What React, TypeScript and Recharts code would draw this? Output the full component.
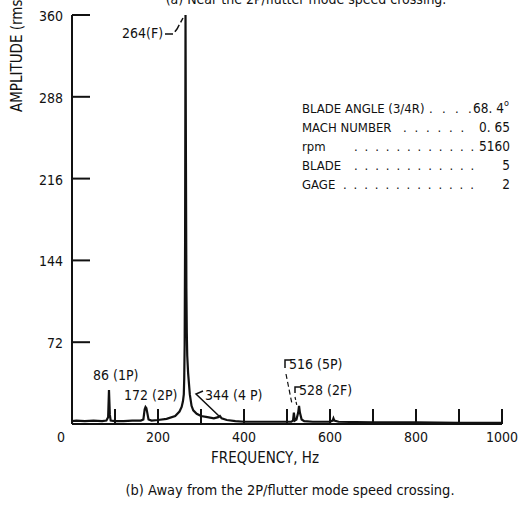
import React from "react";
import { LineChart, Line, XAxis, YAxis, Customized } from "recharts";

// spectrum trace, frequency (Hz) against amplitude
const freqHz = [
  0, 10, 30, 50, 70, 80, 84, 86, 88, 90, 100, 120, 140, 160, 166, 169, 171, 173, 175, 178,
  185, 200, 220, 240, 250, 255, 258, 260, 261, 262, 263, 264, 265, 266, 267, 268, 270, 274,
  278, 282, 290, 300, 315, 330, 340, 344, 348, 360, 380, 400, 450, 500, 510, 514, 516, 518,
  522, 526, 528, 530, 534, 540, 560, 600, 606, 608, 610, 620, 700, 800, 900, 1000,
];
const amplitude = [
  2.5, 3, 2.5, 3, 2.5, 3, 6, 30, 8, 3, 2.5, 2.5, 3, 3, 4, 13, 15, 14, 10, 4,
  3, 3.5, 4.5, 7, 11, 15, 20, 26, 40, 70, 160, 360, 230, 120, 80, 60, 45, 26,
  16, 12, 9, 7, 6, 5, 6, 7, 5, 3.5, 2.5, 2, 2, 2, 2, 3, 10, 3,
  4, 10, 16, 10, 4, 2.5, 2, 2, 3, 5, 3, 2, 1.5, 1.5, 1, 1,
];

const freqTicks = [0, 100, 200, 300, 400, 500, 600, 700, 800, 900, 1000];
const ampTicks = [0, 72, 144, 216, 288, 360];

// run conditions printed in the upper right
const conditionLabels = ["BLADE ANGLE (3/4R)", "MACH NUMBER", "rpm", "BLADE", "GAGE"];
const conditionValues = ["68. 4", "0. 65", "5160", "5", "2"];

const data = freqHz.map((f, i) => ({ freq: f, amp: amplitude[i] }));

const FONT = "'Liberation Sans Narrow', 'DejaVu Sans Condensed', 'Arial Narrow', sans-serif";
const INK = "#111";

const XTick = (props: any) => {
  const { x, y, payload } = props;
  const v = payload.value;
  return (
    <g>
      {v > 0 && <line x1={x} x2={x} y1={y} y2={y - 15} stroke={INK} strokeWidth={2} />}
      {v % 200 === 0 && (
        <text x={v === 0 ? x - 11 : x} y={y + 18} textAnchor="middle" fontFamily={FONT} fontSize={14} fill={INK}>
          {v}
        </text>
      )}
    </g>
  );
};

const YTick = (props: any) => {
  const { x, y, payload } = props;
  if (payload.value === 0) return null;
  return (
    <g>
      <line x1={x} x2={x + 18} y1={y} y2={y} stroke={INK} strokeWidth={2} />
      <text x={x - 9} y={y + 6} textAnchor="end" fontFamily={FONT} fontSize={14} fill={INK}>
        {payload.value}
      </text>
    </g>
  );
};

const dots = (x0: number, n: number, step: number, y: number) =>
  Array.from({ length: n }).map((_, i) => (
    <text key={i} x={x0 + i * step} y={y} fontFamily={FONT} fontSize={13} fill={INK}>
      .
    </text>
  ));

const dotRuns = [
  { x0: 429, n: 4, step: 13 },
  { x0: 403, n: 6, step: 11.5 },
  { x0: 354, n: 12, step: 10.6 },
  { x0: 354, n: 12, step: 10.6 },
  { x0: 343, n: 13, step: 10.6 },
];

const Annotations = () => {
  const t = { fontFamily: FONT, fontSize: 14, fill: INK };
  return (
    <g>
      <text x={306} y={4} textAnchor="middle" {...t}>
        (a) Near the 2P/flutter mode speed crossing.
      </text>
      <text transform="translate(22,112) rotate(-90)" {...t} fontSize={15}>
        AMPLITUDE (rms)
      </text>

      <text x={122} y={38} {...t}>264(F)</text>
      <polyline points="165,34 173,34 177,29 183,18" fill="none" stroke={INK} strokeWidth={1.5} strokeDasharray="8 3" />

      <text x={93} y={380} {...t}>86 (1P)</text>
      <text x={124} y={400} {...t}>172 (2P)</text>

      <text x={205} y={400} {...t}>344 (4 P)</text>
      <polyline points="203,391 196,394 219,416" fill="none" stroke={INK} strokeWidth={1.5} />

      <text x={289} y={369} {...t}>516 (5P)</text>
      <polyline points="291,360 285,360 285,368" fill="none" stroke={INK} strokeWidth={1.5} />
      <line x1={286} y1={374} x2={292} y2={404} stroke={INK} strokeWidth={1.2} strokeDasharray="5 3" />

      <text x={299} y={395} {...t}>528 (2F)</text>
      <polyline points="301,387 295,387 295,393" fill="none" stroke={INK} strokeWidth={1.5} />
      <line x1={295} y1={397} x2={297} y2={406} stroke={INK} strokeWidth={1.2} strokeDasharray="3 2" />

      {conditionLabels.map((lab, i) => {
        const y = 113 + i * 19;
        const run = dotRuns[i];
        return (
          <g key={lab}>
            <text x={302} y={y} {...t} fontSize={13}>{lab}</text>
            {dots(run.x0, run.n, run.step, y)}
            <text x={i === 0 ? 504 : 510} y={y} textAnchor="end" {...t} fontSize={13.5}>
              {conditionValues[i]}
            </text>
            {i === 0 && (
              <text x={504} y={y - 7} fontFamily={FONT} fontSize={9} fill={INK}>o</text>
            )}
          </g>
        );
      })}

      <text x={265} y={463} textAnchor="middle" {...t} fontSize={15}>FREQUENCY, Hz</text>
      <text x={290} y={495} textAnchor="middle" {...t} fontSize={14.5}>
        (b) Away from the 2P/flutter mode speed crossing.
      </text>
    </g>
  );
};

export default function App() {
  return (
    <div style={{ position: "absolute", left: 0, top: 0, background: "#fff" }}>
      <LineChart width={518} height={510} data={data} margin={{ top: 15, right: 16, left: 0, bottom: 0 }}>
        <XAxis
          type="number"
          dataKey="freq"
          domain={[0, 1000]}
          ticks={freqTicks}
          interval={0}
          height={86}
          tickSize={0}
          tickMargin={0}
          tickLine={false}
          axisLine={{ stroke: INK, strokeWidth: 2 }}
          tick={<XTick />}
        />
        <YAxis
          type="number"
          domain={[0, 360]}
          ticks={ampTicks}
          interval={0}
          width={72}
          tickSize={0}
          tickMargin={0}
          tickLine={false}
          axisLine={{ stroke: INK, strokeWidth: 2 }}
          tick={<YTick />}
        />
        <Line
          type="linear"
          dataKey="amp"
          stroke={INK}
          strokeWidth={2.2}
          dot={false}
          isAnimationActive={false}
        />
        <Customized component={<Annotations />} />
      </LineChart>
    </div>
  );
}
